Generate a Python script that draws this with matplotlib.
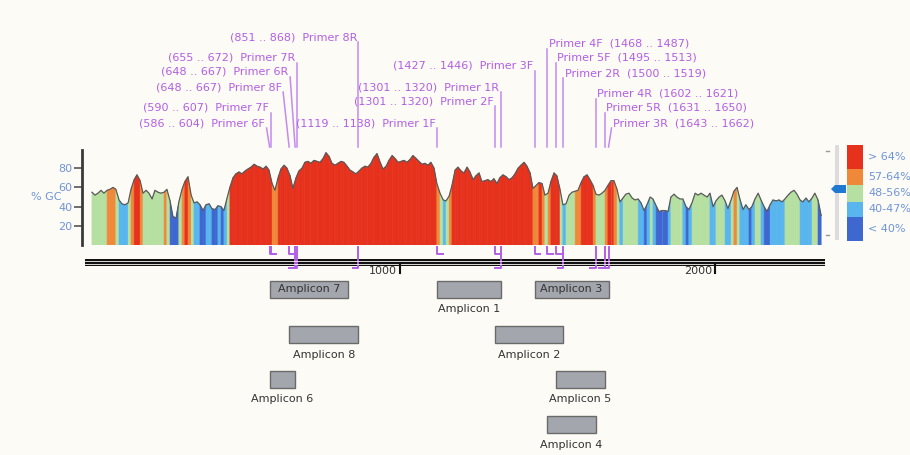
import matplotlib
matplotlib.use("Agg")
import matplotlib.pyplot as plt
from matplotlib.collections import PolyCollection
from matplotlib.patches import Rectangle, Polygon

# ---------------- data ----------------
seq_len = 2349

gc_pos = [
    22, 32, 41, 51, 60, 70, 79, 89, 98, 108, 117, 127, 137, 146, 156, 165, 175, 184, 194, 203, 213,
    222, 232, 241, 251, 260, 270, 279, 289, 298, 308, 317, 327, 337, 346, 356, 365, 375, 384, 394, 403, 413,
    422, 432, 441, 451, 460, 470, 479, 489, 498, 508, 517, 527, 537, 546, 556, 565, 575, 584, 594, 603, 613,
    622, 632, 641, 651, 660, 670, 679, 689, 698, 708, 717, 727, 737, 746, 756, 765, 775, 784, 794, 803, 813,
    822, 832, 841, 851, 860, 870, 879, 889, 898, 908, 917, 927, 937, 946, 956, 965, 975, 984, 994, 1003, 1013,
    1022, 1032, 1041, 1051, 1060, 1070, 1079, 1089, 1098, 1108, 1117, 1127, 1137, 1146, 1156, 1165, 1175, 1184, 1194, 1203, 1213,
    1222, 1232, 1241, 1251, 1260, 1270, 1279, 1289, 1298, 1308, 1317, 1327, 1337, 1346, 1356, 1365, 1375, 1384, 1394, 1403, 1413,
    1422, 1432, 1441, 1451, 1460, 1470, 1479, 1489, 1498, 1508, 1517, 1527, 1537, 1546, 1556, 1565, 1575, 1584, 1594, 1603, 1613,
    1622, 1632, 1641, 1651, 1660, 1670, 1679, 1689, 1698, 1708, 1717, 1727, 1737, 1746, 1756, 1765, 1775, 1784, 1794, 1803, 1813,
    1822, 1832, 1841, 1851, 1860, 1870, 1879, 1889, 1898, 1908, 1917, 1927, 1937, 1946, 1956, 1965, 1975, 1984, 1994, 2003, 2013,
    2022, 2032, 2041, 2051, 2060, 2070, 2079, 2089, 2098, 2108, 2117, 2127, 2137, 2146, 2156, 2165, 2175, 2184, 2194, 2203, 2213,
    2222, 2232, 2241, 2251, 2260, 2270, 2279, 2289, 2298, 2308, 2317, 2327, 2337,
]
gc_val = [
    55, 52, 54, 57, 54, 57, 58, 60, 58, 47, 43, 42, 44, 58, 68, 73, 67, 54, 57, 54, 48,
    57, 55, 54, 55, 58, 46, 30, 28, 45, 58, 66, 71, 52, 44, 45, 42, 36, 42, 43, 38, 37,
    41, 40, 36, 49, 60, 70, 74, 76, 74, 77, 79, 81, 84, 82, 81, 79, 82, 78, 64, 57, 70,
    79, 83, 80, 72, 59, 70, 77, 80, 86, 87, 85, 88, 87, 86, 90, 96, 92, 85, 83, 85, 87,
    86, 82, 78, 76, 74, 77, 80, 82, 81, 85, 91, 95, 86, 79, 82, 88, 93, 90, 86, 87, 88,
    86, 89, 93, 90, 87, 84, 85, 83, 86, 80, 64, 54, 47, 46, 51, 62, 78, 81, 77, 75, 81,
    76, 68, 72, 75, 66, 67, 68, 66, 69, 64, 70, 73, 71, 68, 70, 74, 80, 83, 86, 82, 75,
    59, 62, 65, 64, 52, 54, 66, 75, 72, 58, 42, 43, 52, 55, 56, 57, 65, 71, 73, 68, 62,
    53, 52, 54, 57, 62, 67, 67, 58, 45, 49, 53, 54, 49, 47, 48, 44, 36, 42, 50, 48, 41,
    35, 36, 36, 35, 50, 53, 50, 48, 48, 40, 37, 44, 54, 52, 54, 52, 50, 54, 40, 46, 50,
    52, 46, 38, 47, 56, 60, 48, 37, 42, 37, 40, 48, 54, 47, 40, 35, 42, 47, 46, 47, 45,
    48, 52, 55, 57, 53, 47, 45, 49, 45, 49, 54, 47, 31,
]

primer_names = ["6F", "7F", "8F", "6R", "7R", "8R", "1F", "1R", "2F", "3F",
                "4F", "5F", "2R", "4R", "5R", "3R"]
primer_start = [586, 590, 648, 648, 655, 851, 1119, 1301, 1301, 1427,
                1468, 1495, 1500, 1602, 1631, 1643]
primer_end = [604, 607, 667, 667, 672, 868, 1138, 1320, 1320, 1446,
              1487, 1513, 1519, 1621, 1650, 1662]

amp_names = ["Amplicon 7", "Amplicon 1", "Amplicon 3", "Amplicon 8",
             "Amplicon 2", "Amplicon 6", "Amplicon 5", "Amplicon 4"]
amp_start = [587, 1119, 1427, 648, 1301, 586, 1495, 1468]
amp_end = [835, 1320, 1662, 868, 1519, 667, 1650, 1621]

gc_bins = ["> 64%", "57-64%", "48-56%", "40-47%", "< 40%"]
y_ticks = [20, 40, 60, 80]
ruler_ticks = [1000, 2000]

# ---------------- style / layout ----------------
W, H = 910, 455
X0, S = 85.0, 0.315          # pixel of bp 0, pixels per bp
BG = "#fdfbf5"
PURPLE = "#b35ee6"
PLINE = "#c48af0"
TICKBLUE = "#6f95d9"
BIN_COLORS = ["#e6321d", "#f0883a", "#b6e0a2", "#58b5ee", "#3e67d0"]
FS = 8


def px2bp(p):
    return (p - X0) / S


def bp2px(b):
    return X0 + S * b


def gc_color(v):
    if v > 64:
        return BIN_COLORS[0]
    if v >= 56.5:
        return BIN_COLORS[1]
    if v >= 47.5:
        return BIN_COLORS[2]
    if v >= 39.5:
        return BIN_COLORS[3]
    return BIN_COLORS[4]


plt.rcParams["font.family"] = ["DejaVu Sans"]
fig = plt.figure(figsize=(W / 100, H / 100), dpi=100)
fig.patch.set_facecolor(BG)

# GC plot axes
ax_bottom, ax_top = 245.3, 150.0
ax = fig.add_axes([82 / W, (H - ax_bottom) / H, (825 - 82) / W, (ax_bottom - ax_top) / H])
ax.set_xlim(px2bp(82), px2bp(825))
ax.set_ylim(0, (ax_bottom - ax_top) / 0.965)
ax.patch.set_alpha(0)

verts, cols = [], []
for i in range(len(gc_pos) - 1):
    p0, p1 = gc_pos[i], gc_pos[i + 1]
    v0, v1 = gc_val[i], gc_val[i + 1]
    verts.append([(p0, 0), (p0, v0), (p1, v1), (p1, 0)])
    cols.append(gc_color((v0 + v1) / 2))
pc = PolyCollection(verts, facecolors=cols, edgecolors=cols, linewidths=0.4)
ax.add_collection(pc)
ax.plot(gc_pos, gc_val, color="#5a5a5a", lw=0.9)

for s in ["top", "right", "bottom"]:
    ax.spines[s].set_visible(False)
ax.spines["left"].set_linewidth(2)
ax.spines["left"].set_color("#3a3a3a")
ax.set_xticks([])
ax.set_yticks(y_ticks)
ax.tick_params(axis="y", direction="out", length=6, width=1.2, color="#555",
               labelcolor=TICKBLUE, labelsize=FS, pad=1)

# overlay axes: x in bp, y in pixels
ov = fig.add_axes([0, 0, 1, 1])
ov.set_xlim(px2bp(0), px2bp(W))
ov.set_ylim(H, 0)
ov.axis("off")
ov.patch.set_alpha(0)

ov.text(px2bp(46), 197, "% GC", color=TICKBLUE, fontsize=FS, ha="center", va="center")

# primer labels and leader lines
label_row = {"8R": 37, "7R": 58, "6R": 72, "8F": 87, "7F": 108, "6F": 123,
             "1F": 123, "1R": 87, "2F": 101, "3F": 66, "4F": 44, "5F": 58,
             "2R": 73, "4R": 94, "5R": 108, "3R": 123}
label_shift = {"6R": -5, "8F": -6, "6F": -3, "3R": 3}
right_side = {"4F", "5F", "2R", "4R", "5R", "3R"}

for name, s, e in zip(primer_names, primer_start, primer_end):
    fwd = name.endswith("F")
    line_bp = s if fwd else e
    line_px = bp2px(line_bp)
    anc_px = line_px + label_shift.get(name, 0)
    y = label_row[name]
    if name in right_side:
        txt = f"Primer {name}  ({s} .. {e})"
        ov.text(px2bp(anc_px + 1.5), y, txt, color=PURPLE, fontsize=FS,
                ha="left", va="center")
    else:
        txt = f"({s} .. {e})  Primer {name}"
        ov.text(px2bp(anc_px - 1.5), y, txt, color=PURPLE, fontsize=FS,
                ha="right", va="center")
    ov.plot([px2bp(anc_px), line_bp], [y + 5, 147], color=PLINE, lw=1.1)
    # primer marks under the plot
    if fwd:
        ov.plot([s, s, e], [247, 254, 254], color=PURPLE, lw=1.4)
    else:
        ov.plot([s, e, e], [268, 268, 247], color=PURPLE, lw=1.4)

# ruler
ov.add_patch(Rectangle((0, 259), seq_len, 7, color="#111111", lw=0))
ov.plot([0, seq_len], [261.4, 261.4], color=BG, lw=0.6)
ov.plot([0, seq_len], [263.8, 263.8], color=BG, lw=0.6)
for t in ruler_ticks:
    ov.plot([t, t], [265, 273], color="#111111", lw=1.5)
    ov.text(t - 3 / S, 271, str(t), color="#333333", fontsize=FS, ha="right", va="center")

# amplicons
amp_row = [0, 0, 0, 1, 1, 2, 2, 3]
amp_inside = [True, False, True, False, False, False, False, False]
for n, s, e, r, inside in zip(amp_names, amp_start, amp_end, amp_row, amp_inside):
    top = 281 + 45 * r
    ov.add_patch(Rectangle((s, top), e - s, 16.5, facecolor="#a3a6ad",
                           edgecolor="#6a6a6a", lw=1))
    if inside:
        ov.text((s + e) / 2, top + 8.5, n, color="#333333", fontsize=FS,
                ha="center", va="center")
    else:
        ov.text((s + e) / 2, top + 28.5, n, color="#333333", fontsize=FS,
                ha="center", va="center")

# GC legend
edges = [145, 169, 185, 202, 217, 241]
for i, (lab, c) in enumerate(zip(gc_bins, BIN_COLORS)):
    ov.add_patch(Rectangle((px2bp(847), edges[i]), 16 / S, edges[i + 1] - edges[i],
                           color=c, lw=0))
    ov.text(px2bp(868), (edges[i] + edges[i + 1]) / 2, lab, color=TICKBLUE,
            fontsize=FS, ha="left", va="center")

# slider
ov.add_patch(Rectangle((px2bp(835), 145), 4 / S, 95, color="#dcdcdc", lw=0))
for yy in (151, 235):
    ov.plot([px2bp(826), px2bp(829)], [yy, yy], color="#999999", lw=1)
ov.add_patch(Polygon([(px2bp(831), 189), (px2bp(835), 185), (px2bp(846), 185),
                      (px2bp(846), 193), (px2bp(835), 193)], closed=True,
                     color="#1f78d1", lw=0))

fig.savefig("out.png", dpi=100, facecolor=BG)
